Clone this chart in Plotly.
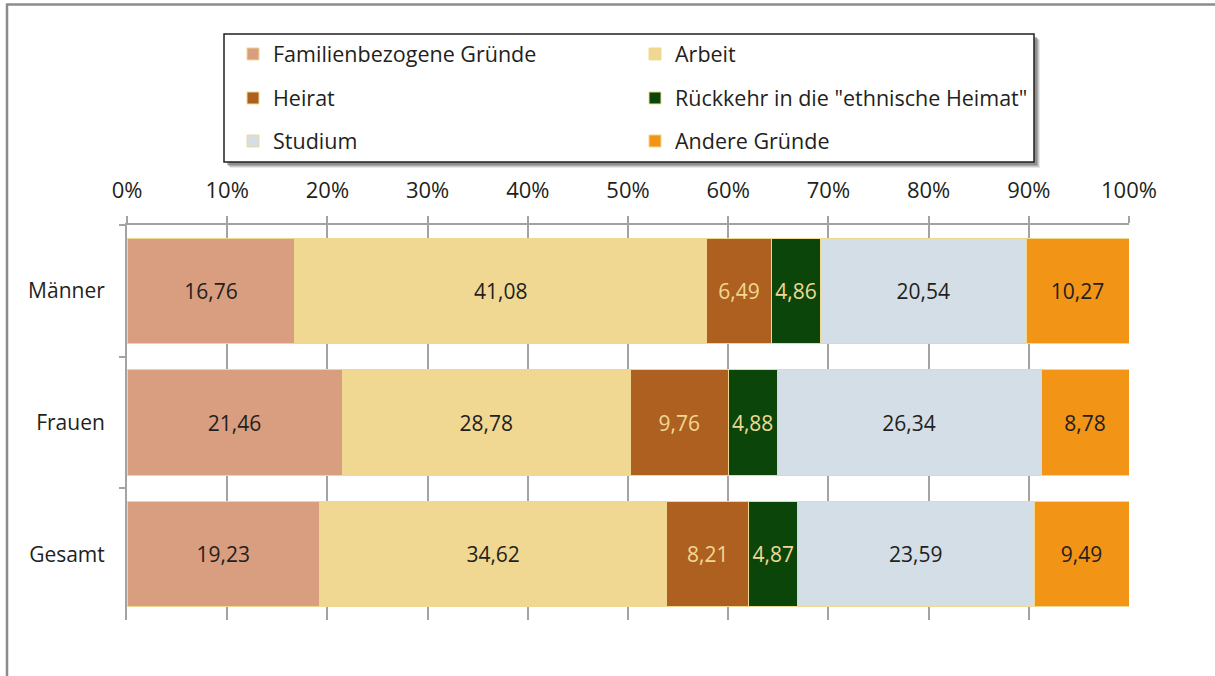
import plotly.graph_objects as go

# ---------------- data ----------------
categories = ["Männer", "Frauen", "Gesamt"]
series_names = ["Familienbezogene Gründe", "Arbeit", "Heirat",
                "Rückkehr in die \"ethnische Heimat\"", "Studium", "Andere Gründe"]
familien = [16.76, 21.46, 19.23]
arbeit = [41.08, 28.78, 34.62]
heirat = [6.49, 9.76, 8.21]
rueckkehr = [4.86, 4.88, 4.87]
studium = [20.54, 26.34, 23.59]
andere = [10.27, 8.78, 9.49]
tick_values = [0, 10, 20, 30, 40, 50, 60, 70, 80, 90, 100]

series_values = [familien, arbeit, heirat, rueckkehr, studium, andere]
colors = ["#D99D7F", "#F0D893", "#AE6021", "#0B450A", "#D4DEE6", "#F29416"]
text_colors = ["#231F20", "#231F20", "#F0D893", "#F0D893", "#231F20", "#231F20"]
legend_ids = ["legend", "legend", "legend2", "legend2", "legend3", "legend3"]

FONT = "Open Sans"
W, H = 1215, 676
L, R, T, B = 127, 86, 225, 56


def px(x):
    return (x - L) / (W - L - R)


def py(y):
    return (H - B - y) / (H - T - B)


fig = go.Figure()
for name, vals, col, tcol, lg in zip(series_names, series_values, colors, text_colors, legend_ids):
    fig.add_trace(go.Bar(
        y=categories, x=vals, name=name, orientation="h",
        marker=dict(color=col, line=dict(color="#F0D893", width=1)),
        text=[f"{v:.2f}".replace(".", ",") for v in vals],
        textposition="inside", insidetextanchor="middle", textangle=0,
        constraintext="none",
        insidetextfont=dict(family=FONT, size=21, color=tcol),
        legend=lg, hoverinfo="x+y+name",
    ))

# frame lines (top and left)
shapes = [
    dict(type="line", xref="paper", yref="paper", x0=px(6), x1=px(1215), y0=py(4.5), y1=py(4.5),
         line=dict(color="#8C8C8C", width=2.5), layer="below"),
    dict(type="line", xref="paper", yref="paper", x0=px(7), x1=px(7), y0=py(4), y1=py(676),
         line=dict(color="#8C8C8C", width=2.5), layer="below"),
]
# legend box shadow
for off, op in [(6, 0.15), (5, 0.25), (4, 0.35), (3, 0.45)]:
    shapes.append(dict(type="rect", xref="paper", yref="paper",
                       x0=px(224 + off), x1=px(1034 + off), y0=py(34 + off), y1=py(162 + off),
                       fillcolor=f"rgba(110,110,110,{op})", line=dict(width=0), layer="below"))
shapes.append(dict(type="rect", xref="paper", yref="paper",
                   x0=px(224), x1=px(1034), y0=py(34), y1=py(162),
                   fillcolor="white", line=dict(color="#231F20", width=1.5), layer="below"))

legend_common = dict(orientation="h", xref="paper", yref="paper", xanchor="left", yanchor="middle",
                     entrywidth=357, entrywidthmode="pixels", bgcolor="rgba(0,0,0,0)",
                     borderwidth=0, font=dict(family=FONT, size=21.5, color="#231F20"),
                     traceorder="normal", itemclick=False, itemdoubleclick=False)

fig.update_layout(
    width=W, height=H,
    margin=dict(l=L, r=R, t=T, b=B, pad=0),
    barmode="stack", bargap=0.2,
    paper_bgcolor="white", plot_bgcolor="white",
    font=dict(family=FONT, size=19, color="#231F20"),
    showlegend=True,
    legend=dict(x=px(233), y=py(54), **legend_common),
    legend2=dict(x=px(233), y=py(98), **legend_common),
    legend3=dict(x=px(233), y=py(141), **legend_common),
    xaxis=dict(side="top", range=[0, 100], tickvals=tick_values,
               ticktext=[f"{v}%" for v in tick_values],
               showgrid=True, gridcolor="#A3A3A3", gridwidth=2,
               showline=True, linecolor="#A3A3A3", linewidth=1.5,
               ticks="outside", ticklen=7, tickcolor="#A3A3A3", tickwidth=2,
               ticklabelstandoff=9, zeroline=False,
               tickfont=dict(family=FONT, size=22, color="#231F20"), fixedrange=True),
    yaxis=dict(autorange="reversed", showline=True, linecolor="#A3A3A3", linewidth=2,
               ticks="outside", tickson="boundaries", ticklen=6, tickcolor="#A3A3A3", tickwidth=1.5,
               ticklabelstandoff=16, showgrid=False,
               tickfont=dict(family=FONT, size=21, color="#231F20"), fixedrange=True),
    shapes=shapes,
)

fig.write_html("out.html", config={"displayModeBar": False},
               post_script="document.body.style.margin='0';")
